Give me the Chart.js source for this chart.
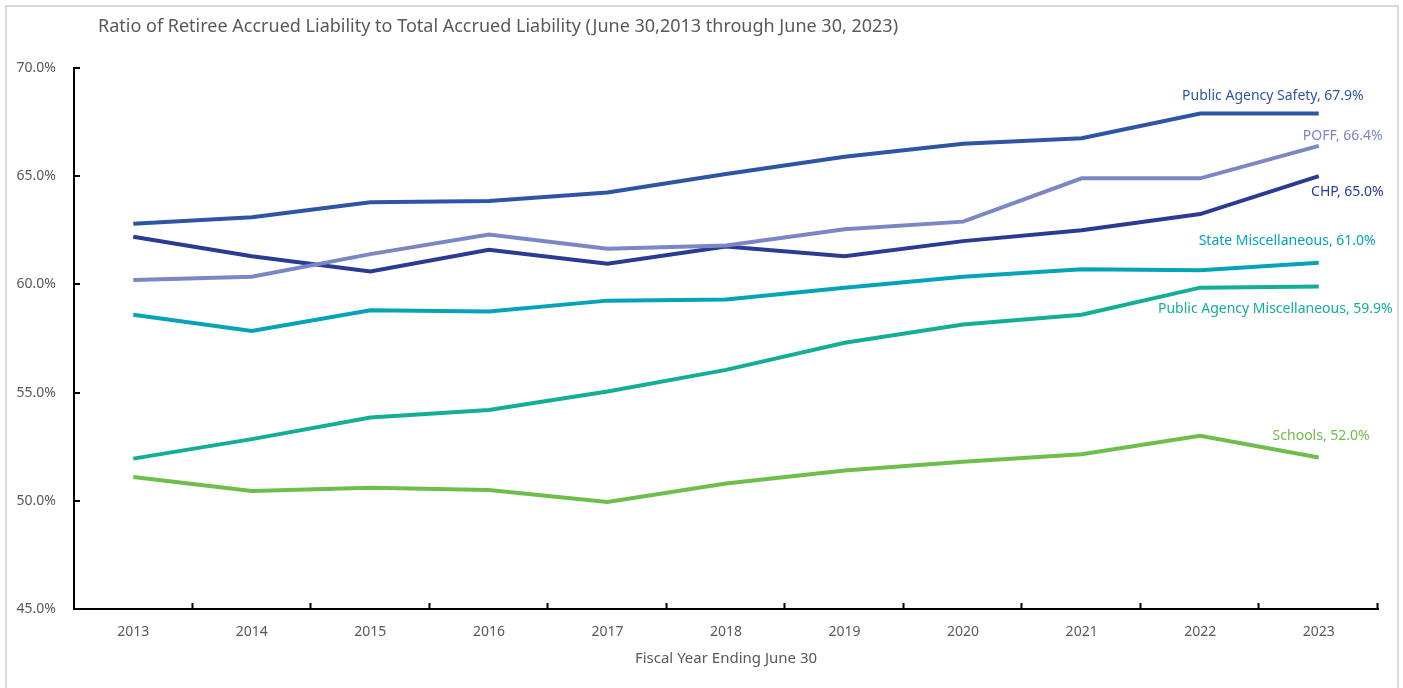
<!DOCTYPE html>
<html lang="en">
<head>
    <meta charset="UTF-8">
    <title>Retiree accrued liability ratio</title>
    <script src="https://cdn.jsdelivr.net/npm/chart.js@4/dist/chart.umd.min.js"></script>
    <style>
        body { margin: 0; background: #fff; }
        .frame {
            position: absolute; left: 5px; top: 5px; width: 1390px; height: 700px;
            border: 2px solid #d9d9d9;
        }
        #chart { position: absolute; left: 0; top: 0; }
    </style>
</head>
<body>
    <div class="frame"></div>
    <canvas id="chart" width="1403" height="688"></canvas>
    <script>
        // data
        const years = ['2013', '2014', '2015', '2016', '2017', '2018', '2019', '2020', '2021', '2022', '2023'];
        const publicAgencySafety = [62.8, 63.1, 63.8, 63.85, 64.25, 65.1, 65.9, 66.5, 66.75, 67.9, 67.9];
        const poff = [60.2, 60.35, 61.4, 62.3, 61.65, 61.8, 62.55, 62.9, 64.9, 64.9, 66.4];
        const chp = [62.2, 61.3, 60.6, 61.6, 60.95, 61.75, 61.3, 62.0, 62.5, 63.25, 65.0];
        const stateMisc = [58.6, 57.85, 58.8, 58.75, 59.25, 59.3, 59.85, 60.35, 60.7, 60.65, 61.0];
        const publicAgencyMisc = [51.95, 52.85, 53.85, 54.2, 55.05, 56.05, 57.3, 58.15, 58.6, 59.85, 59.9];
        const schools = [51.1, 50.45, 50.6, 50.5, 49.95, 50.8, 51.4, 51.8, 52.15, 53.0, 52.0];
        const seriesNames = ['Public Agency Safety', 'POFF', 'CHP', 'State Miscellaneous', 'Public Agency Miscellaneous', 'Schools'];
        const yTicks = [45, 50, 55, 60, 65, 70];

        const colors = ['#2e55a5', '#7b86c5', '#2b3a92', '#05a3b6', '#14ae97', '#6dbe4a'];
        // end label offsets: right edge dx and middle dy from the last point
        const labelOffsets = [[45, -17], [64, -10], [65, 16], [57, -22], [74, 22], [51, -22]];
        const FONT = '"Noto Sans", "DejaVu Sans", sans-serif';
        const GREY = '#595959';

        const allSeries = [publicAgencySafety, poff, chp, stateMisc, publicAgencyMisc, schools];
        const datasets = allSeries.map((d, i) => ({
            label: seriesNames[i],
            data: d,
            borderColor: colors[i],
            backgroundColor: colors[i],
            borderWidth: 4,
            pointRadius: 0,
            tension: 0,
            fill: false
        }));

        // title, inward tick marks and end labels
        const extras = {
            id: 'extras',
            afterDraw(chart) {
                const ctx = chart.ctx;
                const xs = chart.scales.x, ys = chart.scales.y;
                ctx.save();
                ctx.fillStyle = GREY;
                ctx.font = '18px ' + FONT;
                ctx.textAlign = 'left';
                ctx.textBaseline = 'middle';
                ctx.fillText('Ratio of Retiree Accrued Liability to Total Accrued Liability (June 30,2013 through June 30, 2023)', 98, 27);

                ctx.strokeStyle = '#000';
                ctx.lineWidth = 2;
                const step = (xs.right - xs.left) / years.length;
                for (let i = 1; i <= years.length; i++) {
                    const x = Math.round(xs.left + i * step) - 0.5;
                    ctx.beginPath();
                    ctx.moveTo(x, ys.bottom);
                    ctx.lineTo(x, ys.bottom - 6);
                    ctx.stroke();
                }
                yTicks.forEach(v => {
                    const y = Math.round(ys.getPixelForValue(v));
                    ctx.beginPath();
                    ctx.moveTo(xs.left, y);
                    ctx.lineTo(xs.left + 6, y);
                    ctx.stroke();
                });

                ctx.font = '14px ' + FONT;
                ctx.textAlign = 'right';
                chart.data.datasets.forEach((ds, i) => {
                    const meta = chart.getDatasetMeta(i);
                    const last = meta.data[meta.data.length - 1];
                    const val = ds.data[ds.data.length - 1];
                    ctx.fillStyle = colors[i];
                    ctx.fillText(ds.label + ', ' + val.toFixed(1) + '%', last.x + labelOffsets[i][0], last.y + labelOffsets[i][1]);
                });
                ctx.restore();
            }
        };

        new Chart(document.getElementById('chart'), {
            type: 'line',
            data: { labels: years, datasets: datasets },
            options: {
                responsive: false,
                animation: false,
                layout: { padding: { left: 0, top: 68, right: 25, bottom: 10 } },
                plugins: {
                    legend: { display: false },
                    tooltip: { enabled: false }
                },
                scales: {
                    x: {
                        offset: true,
                        grid: { display: false },
                        border: { display: true, color: '#000', width: 2 },
                        ticks: { color: GREY, font: { family: FONT, size: 14 }, padding: 7, maxRotation: 0 },
                        title: { display: true, text: 'Fiscal Year Ending June 30', color: GREY, font: { family: FONT, size: 15 }, padding: { top: 4, bottom: 10 } },
                        afterFit: s => { s.height = 69; }
                    },
                    y: {
                        min: 45,
                        max: 70,
                        grid: { display: false },
                        border: { display: true, color: '#000', width: 2 },
                        ticks: {
                            stepSize: 5,
                            color: GREY,
                            font: { family: FONT, size: 14 },
                            padding: 10,
                            callback: v => v.toFixed(1) + '%'
                        },
                        afterFit: s => { s.width = 74; }
                    }
                }
            },
            plugins: [extras]
        });
    </script>
</body>
</html>
